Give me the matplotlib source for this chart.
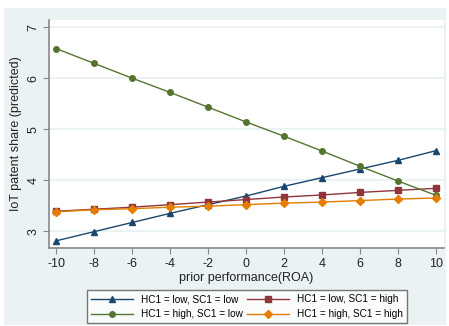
import matplotlib
matplotlib.use("Agg")
import matplotlib.pyplot as plt
from matplotlib.patches import Rectangle

plt.rcParams['font.family'] = ['Liberation Sans', 'DejaVu Sans']

roa = [-10, -8, -6, -4, -2, 0, 2, 4, 6, 8, 10]
low_low = [2.81, 2.99, 3.17, 3.35, 3.52, 3.69, 3.88, 4.05, 4.22, 4.39, 4.58]
low_high = [3.39, 3.43, 3.47, 3.52, 3.57, 3.62, 3.67, 3.71, 3.76, 3.80, 3.84]
high_low = [6.58, 6.29, 6.00, 5.72, 5.43, 5.14, 4.86, 4.57, 4.27, 3.98, 3.70]
high_high = [3.38, 3.42, 3.44, 3.47, 3.49, 3.52, 3.55, 3.57, 3.60, 3.63, 3.65]
labels = ["HC1 = low, SC1 = low", "HC1 = low, SC1 = high",
          "HC1 = high, SC1 = low", "HC1 = high, SC1 = high"]
xticks = [-10, -8, -6, -4, -2, 0, 2, 4, 6, 8, 10]
yticks = [3, 4, 5, 6, 7]

W, H = 449, 326
fig = plt.figure(figsize=(W / 100, H / 100), dpi=100, facecolor='white')
bg = '#EAF2F3'
fig.patches.append(Rectangle((4 / W, 1 / H), 442 / W, 317 / H,
                             transform=fig.transFigure, facecolor=bg,
                             edgecolor='none', zorder=-10))

ax = fig.add_axes([49 / W, (H - 248) / H, (444 - 49) / W, (248 - 20) / H])
ax.set_facecolor('white')

cols = ['#1a476f', '#90353b', '#55752f', '#e37e00']
markers = ['^', 's', 'o', 'D']
msizes = [4, 4, 4, 3.6]
series = [low_low, low_high, high_low, high_high]
handles = []
for s, c, m, ms, lab in zip(series, cols, markers, msizes, labels):
    h, = ax.plot(roa, s, color=c, marker=m, markersize=ms, linewidth=1.0, label=lab,
                 zorder=3)
    handles.append(h)

ax.set_xlim(-10.37, 10.4)
ax.set_ylim(2.67, 7.14)
ax.set_xticks(xticks)
ax.set_yticks(yticks)
ax.set_xticklabels([str(v) for v in xticks])
ax.set_yticklabels([str(v) for v in yticks], rotation=90, va='center')
for v in yticks:
    ax.axhline(v, color=bg, linewidth=1.5, zorder=1)

for sp in ['top', 'right']:
    ax.spines[sp].set_visible(False)
for sp in ['left', 'bottom']:
    ax.spines[sp].set_color('#888888')
    ax.spines[sp].set_linewidth(1.2)
ax.tick_params(axis='both', direction='out', length=4, color='#888888',
               labelsize=9, labelcolor='#222222', pad=3)

ax.set_xlabel('prior performance(ROA)', fontsize=9, color='#222222', labelpad=2)
ax.set_ylabel('IoT patent share (predicted)', fontsize=9, color='#222222', labelpad=4)

order = [0, 2, 1, 3]
leg = fig.legend(handles=[handles[i] for i in order], labels=[labels[i] for i in order],
                 ncol=2, loc='lower left',
                 bbox_to_anchor=(87 / W, (H - 323) / H, (407 - 87) / W, 37 / H),
                 mode='expand', fontsize=7.2, frameon=True, fancybox=False,
                 handlelength=4.2, handletextpad=0.8, columnspacing=1.2,
                 borderpad=0.4, labelspacing=0.5, borderaxespad=0)
leg.get_frame().set_edgecolor('#555555')
leg.get_frame().set_linewidth(1.0)
leg.get_frame().set_facecolor('white')

fig.savefig('out.png', dpi=100, facecolor='white')
